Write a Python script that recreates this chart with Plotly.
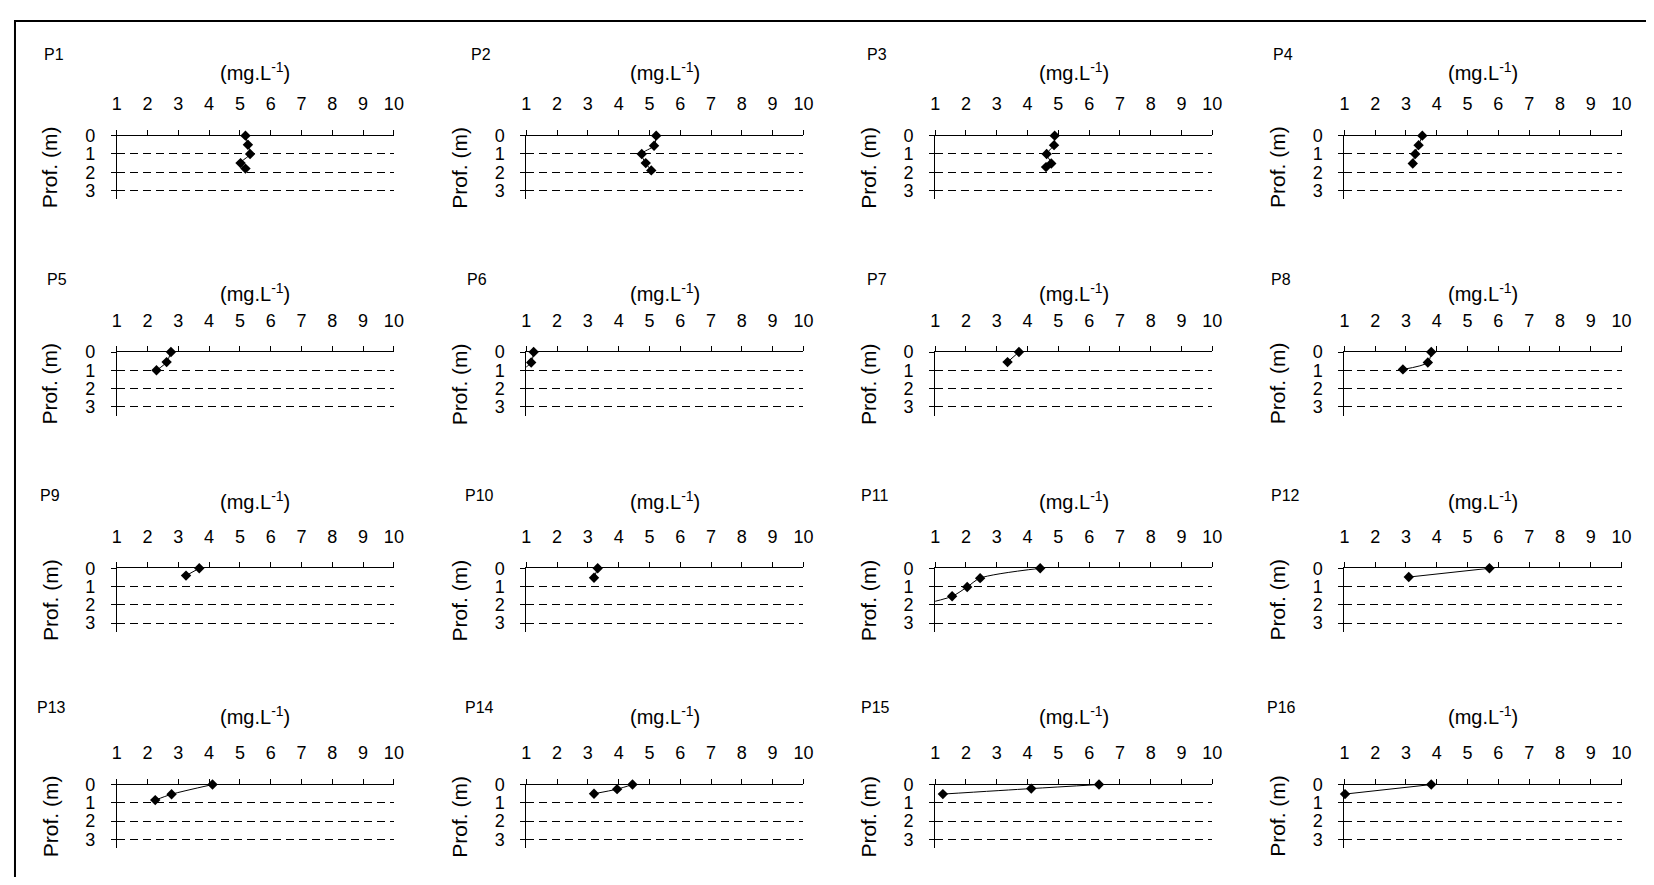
import plotly.graph_objects as go

# ---------------- data (concentration mg/L vs depth m) ----------------
panel_names = ["P1", "P2", "P3", "P4", "P5", "P6", "P7", "P8",
               "P9", "P10", "P11", "P12", "P13", "P14", "P15", "P16"]

P1_conc = [5.18, 5.26, 5.33, 5.02, 5.18]
P1_depth = [0.0, 0.5, 1.0, 1.5, 1.8]
P2_conc = [5.22, 5.15, 4.75, 4.88, 5.06]
P2_depth = [0.0, 0.55, 1.0, 1.5, 1.9]
P3_conc = [4.88, 4.86, 4.62, 4.77, 4.6]
P3_depth = [0.0, 0.52, 1.0, 1.52, 1.72]
P4_conc = [3.53, 3.41, 3.3, 3.22]
P4_depth = [0.0, 0.52, 1.0, 1.52]
P5_conc = [2.76, 2.62, 2.29]
P5_depth = [0.0, 0.55, 1.0]
P6_conc = [1.24, 1.16, 0.8]
P6_depth = [0.0, 0.57, 1.05]
P7_conc = [3.72, 3.35]
P7_depth = [0.0, 0.55]
P8_conc = [3.82, 3.71, 2.9]
P8_depth = [0.0, 0.57, 0.95]
P9_conc = [3.68, 3.25]
P9_depth = [0.0, 0.4]
P10_conc = [3.32, 3.2]
P10_depth = [0.0, 0.52]
P11_conc = [4.41, 2.46, 2.04, 1.55, 0.5]
P11_depth = [0.0, 0.54, 1.02, 1.53, 2.0]
P12_conc = [5.71, 3.09]
P12_depth = [0.0, 0.48]
P13_conc = [4.11, 2.78, 2.25]
P13_depth = [0.0, 0.53, 0.85]
P14_conc = [4.45, 3.95, 3.2]
P14_depth = [0.0, 0.25, 0.5]
P15_conc = [6.32, 4.12, 1.25]
P15_depth = [0.0, 0.22, 0.52]
P16_conc = [3.82, 1.02]
P16_depth = [0.0, 0.52]

concs = [P1_conc, P2_conc, P3_conc, P4_conc, P5_conc, P6_conc, P7_conc, P8_conc,
         P9_conc, P10_conc, P11_conc, P12_conc, P13_conc, P14_conc, P15_conc, P16_conc]
depths = [P1_depth, P2_depth, P3_depth, P4_depth, P5_depth, P6_depth, P7_depth, P8_depth,
          P9_depth, P10_depth, P11_depth, P12_depth, P13_depth, P14_depth, P15_depth, P16_depth]

x_ticks = [1, 2, 3, 4, 5, 6, 7, 8, 9, 10]
y_ticks = [0, 1, 2, 3]
X_MIN, X_MAX = 1, 10
unit_title = "(mg.L<sup>-1</sup>)"
depth_title = "Prof. (m)"

# ---------------- layout geometry (page pixels) ----------------
PAGE_W, PAGE_H = 1654, 885
OFF = 8                      # default body margin of the page
W, H = PAGE_W - 2 * OFF, PAGE_H - 2 * OFF   # plot div fits the window exactly
COL_X = [112.7, 526.0, 938.7, 1351.7]
ROW_Y = [127.3, 346.7, 566.0, 785.3]
PLOT_W = 279.7
YPX = 18.55
YMAX = 3.47
NAME_POS = [(37, 45), (468, 45), (868, 45), (1278, 45),
            (40, 273), (464, 273), (868, 273), (1276, 273),
            (33, 492), (462, 492), (862, 492), (1276, 492),
            (30, 707), (462, 707), (862, 707), (1272, 707)]
UNIT_Y = [62, 286, 497, 715]

FONT = "Arial, Liberation Sans, sans-serif"


def px_x(p):
    return (p - OFF) / W


def px_y(p):
    return 1 - (p - OFF) / H


fig = go.Figure()
annotations = []
for i in range(16):
    r, c = divmod(i, 4)
    k = "" if i == 0 else str(i + 1)
    x0 = COL_X[c]
    x1 = x0 + PLOT_W
    y0 = ROW_Y[r]
    y1 = y0 + YMAX * YPX
    # line (clipped to the plot area)
    fig.add_trace(go.Scatter(
        x=concs[i], y=depths[i], mode="lines",
        line=dict(color="black", width=1, shape="spline", smoothing=0.8),
        xaxis="x" + k, yaxis="y" + k, showlegend=False, hoverinfo="skip",
    ))
    # markers inside the axis range, not clipped at the top axis line
    mx = [v for v in concs[i] if X_MIN <= v <= X_MAX]
    my = [d for v, d in zip(concs[i], depths[i]) if X_MIN <= v <= X_MAX]
    fig.add_trace(go.Scatter(
        x=mx, y=my, mode="markers", cliponaxis=False,
        marker=dict(symbol="diamond", size=8, color="black"),
        xaxis="x" + k, yaxis="y" + k, showlegend=False,
    ))
    fig.layout["xaxis" + k] = dict(
        domain=[px_x(x0), px_x(x1)], anchor="y" + k, side="top",
        range=[X_MIN, X_MAX], tickvals=x_ticks, ticks="outside", ticklen=5,
        tickcolor="black", tickwidth=1, showline=True, linecolor="black",
        linewidth=1, showgrid=False, zeroline=False,
        tickfont=dict(family=FONT, size=18, color="black"),
        ticklabelstandoff=12,
    )
    fig.layout["yaxis" + k] = dict(
        domain=[px_y(y1), px_y(y0)], anchor="x" + k,
        range=[YMAX, 0], tickvals=y_ticks, ticks="outside", ticklen=5,
        tickcolor="black", tickwidth=1, showline=True, linecolor="black",
        linewidth=1, showgrid=True, gridcolor="black", gridwidth=1,
        griddash="8px,5px", zeroline=False,
        tickfont=dict(family=FONT, size=18, color="black"),
        ticklabelstandoff=12,
    )
    nx, ny = NAME_POS[i]
    annotations.append(dict(
        text=panel_names[i], x=px_x(nx), y=px_y(ny), xref="paper", yref="paper",
        xanchor="left", yanchor="middle", showarrow=False,
        font=dict(family=FONT, size=16, color="black")))
    annotations.append(dict(
        text=unit_title, x=px_x((x0 + x1) / 2), y=px_y(UNIT_Y[r]),
        xref="paper", yref="paper", xanchor="center", yanchor="middle",
        showarrow=False, font=dict(family=FONT, size=20, color="black")))
    annotations.append(dict(
        text=depth_title, x=px_x(x0 - 67.5), y=px_y(y0 + YMAX * YPX / 2),
        xref="paper", yref="paper", xanchor="center", yanchor="middle",
        textangle=-90, showarrow=False,
        font=dict(family=FONT, size=21, color="black")))

fig.update_layout(
    width=W, height=H, margin=dict(l=0, r=0, t=0, b=0),
    paper_bgcolor="white", plot_bgcolor="white",
    annotations=annotations,
    shapes=[dict(type="rect", xref="paper", yref="paper",
                 x0=px_x(10), x1=px_x(1675), y0=px_y(905), y1=px_y(11),
                 line=dict(color="black", width=2))],
)

fig.write_html("out.html", config={"displayModeBar": False})
